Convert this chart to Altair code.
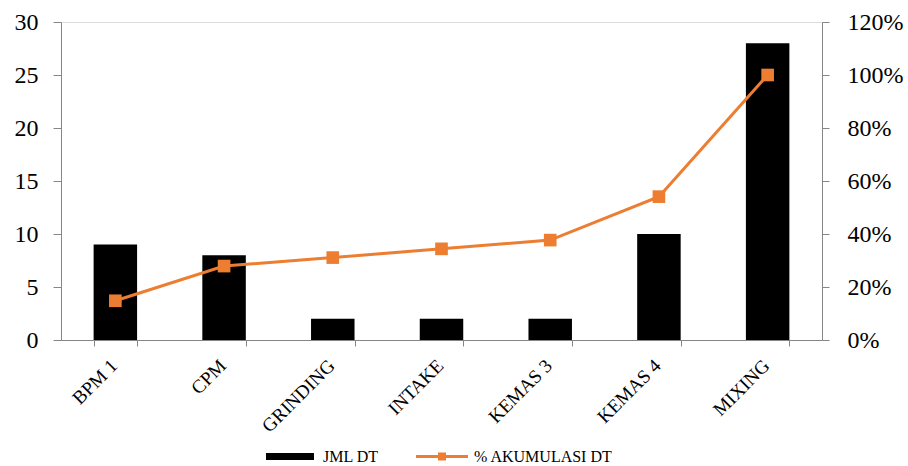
import altair as alt
import pandas as pd

categories = ["BPM 1", "CPM", "GRINDING", "INTAKE", "KEMAS 3", "KEMAS 4", "MIXING"]
jml_dt = [9, 8, 2, 2, 2, 10, 28]
akumulasi = [0.148, 0.279, 0.311, 0.344, 0.377, 0.541, 1.0]

df = pd.DataFrame({"cat": categories, "jml": jml_dt, "akum": akumulasi})

FONT = "Liberation Serif"
AXIS_GREY = "#868686"
ORANGE = "#ED7D31"
W, H = 761, 318

xenc = alt.X("cat:N", sort=categories, title=None,
             scale=alt.Scale(paddingInner=0.6, paddingOuter=0.3),
             axis=alt.Axis(labelAngle=-45, labelFontSize=19, labelFont=FONT,
                           labelColor="black", tickBand="extent",
                           domainColor=AXIS_GREY, tickColor=AXIS_GREY,
                           tickSize=6, labelPadding=10, labelOffset=-8, grid=False))

bars = alt.Chart(df).mark_bar(color="black").encode(
    x=xenc,
    y=alt.Y("jml:Q", title=None,
            scale=alt.Scale(domain=[0, 30], nice=False),
            axis=alt.Axis(values=[0, 5, 10, 15, 20, 25, 30], labelFontSize=24,
                          labelFont=FONT, labelColor="black", grid=False,
                          domainColor=AXIS_GREY, tickColor=AXIS_GREY,
                          tickSize=8, labelPadding=15)),
)

line = alt.Chart(df).mark_line(
    color=ORANGE, strokeWidth=3,
    point=alt.OverlayMarkDef(shape="square", size=160, color=ORANGE, filled=True, opacity=1),
).encode(
    x=xenc,
    y=alt.Y("akum:Q", title=None,
            scale=alt.Scale(domain=[0, 1.2], nice=False),
            axis=alt.Axis(orient="right", values=[0, 0.2, 0.4, 0.6, 0.8, 1.0, 1.2],
                          format=".0%", labelFontSize=24, labelFont=FONT,
                          labelColor="black", grid=False,
                          domainColor=AXIS_GREY, tickColor=AXIS_GREY,
                          tickSize=7, labelPadding=18)),
)

legend_df = pd.DataFrame({"k": [0]})
leg_rect = alt.Chart(legend_df).mark_rect(color="black").encode(
    x=alt.value(205), x2=alt.value(253), y=alt.value(431), y2=alt.value(438))
leg_text1 = alt.Chart(legend_df).mark_text(
    text="JML DT", font=FONT, fontSize=16, align="left", baseline="middle", color="black"
).encode(x=alt.value(262), y=alt.value(435))
leg_line = alt.Chart(legend_df).mark_rule(color=ORANGE, strokeWidth=3).encode(
    x=alt.value(355), x2=alt.value(407), y=alt.value(434.5))
leg_pt = alt.Chart(legend_df).mark_point(
    shape="square", size=64, color=ORANGE, filled=True, opacity=1
).encode(x=alt.value(381), y=alt.value(434.5))
leg_text2 = alt.Chart(legend_df).mark_text(
    text="% AKUMULASI DT", font=FONT, fontSize=16, align="left", baseline="middle", color="black"
).encode(x=alt.value(413), y=alt.value(435))

chart = alt.layer(bars, line, leg_rect, leg_text1, leg_line, leg_pt, leg_text2).resolve_scale(
    y="independent"
).properties(
    width=W, height=H,
    autosize=alt.AutoSizeParams(type="none"),
    padding={"left": 61, "top": 22, "right": 86, "bottom": 126},
).configure_view(stroke=None).configure(background="white")

chart.save("out.html", embed_options={"renderer": "svg", "actions": False})
